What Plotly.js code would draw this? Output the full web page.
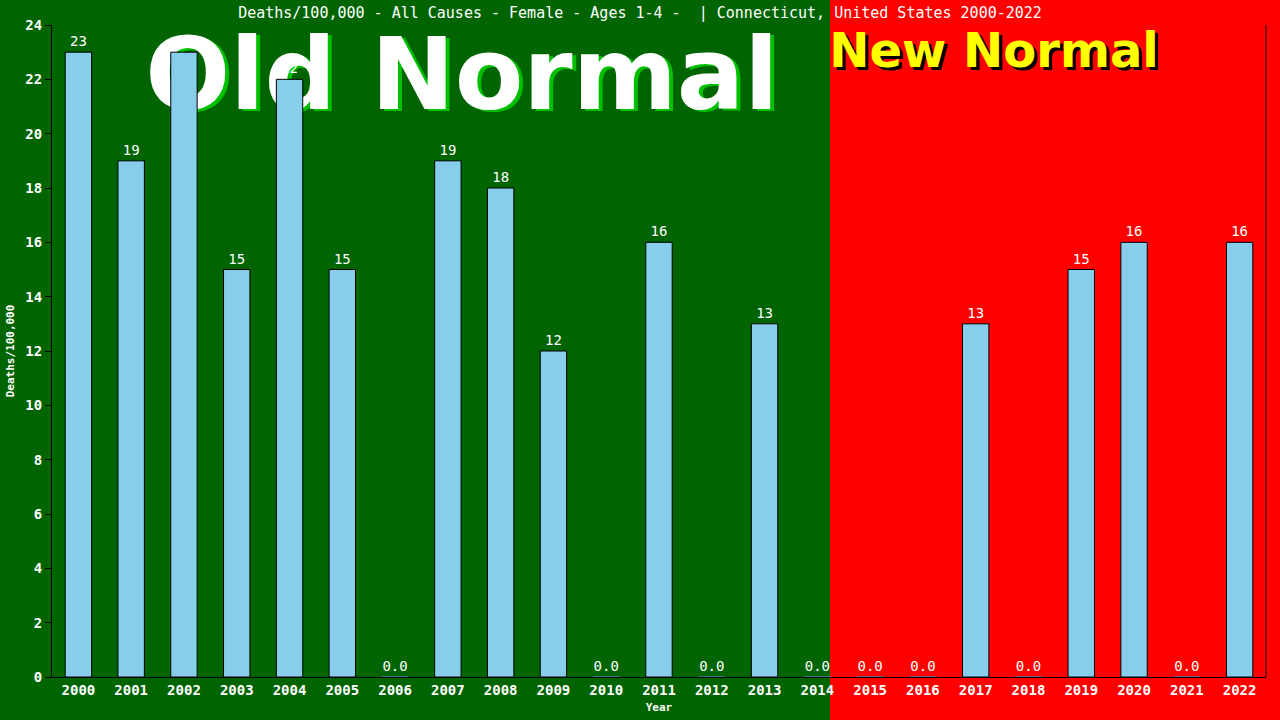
<!DOCTYPE html>
<html>
<head>
<meta charset="utf-8">
<script src="https://cdn.plot.ly/plotly-3.0.1.min.js"></script>
<style>html,body{margin:0;padding:0;background:#ff0000;}#chart{width:1280px;height:720px;}</style>
</head>
<body>
<div id="chart"></div>
<script>
const years = ['2000','2001','2002','2003','2004','2005','2006','2007','2008','2009','2010','2011','2012','2013','2014','2015','2016','2017','2018','2019','2020','2021','2022'];
const deaths = [23,19,23,15,22,15,0,19,18,12,0,16,0,13,0,0,0,13,0,15,16,0,16];
const labels = deaths.map(v => v === 0 ? '0.0' : String(v));
const yTicks = [0,2,4,6,8,10,12,14,16,18,20,22,24];
const titleText = 'Deaths/100,000 - All Causes - Female - Ages 1-4 -  | Connecticut, United States 2000-2022';

const mono = 'DejaVu Sans Mono, monospace';
const trace = {
  type: 'bar',
  x: years,
  y: deaths,
  width: 0.5,
  marker: {color: '#87ceeb', line: {color: deaths.map(v => v === 0 ? '#4682b4' : '#000000'), width: 1}},
  text: labels,
  textposition: 'outside',
  cliponaxis: false,
  textfont: {family: mono, size: 14, color: '#ffffff'},
  hoverinfo: 'x+y'
};

const split = (830 - 52) / 1214;
const oy = 0.926 + 0.0092;
const ny = 0.9586 + 0.0077;
const layout = {
  width: 1280, height: 720,
  margin: {l: 52, r: 14, t: 25, b: 43},
  paper_bgcolor: '#ff0000',
  plot_bgcolor: 'rgba(0,0,0,0)',
  showlegend: false,
  bargap: 0.5,
  title: {text: titleText, font: {family: mono, size: 15, color: '#ffffff'}, x: 0.5, xanchor: 'center', y: 0.982, yanchor: 'middle'},
  xaxis: {
    type: 'category',
    showline: true, linecolor: '#000000', linewidth: 1,
    ticks: '', showgrid: false, zeroline: false,
    tickfont: {family: mono, size: 14, color: '#ffffff', weight: 'bold'},
    title: {text: 'Year', font: {family: mono, size: 11, color: '#ffffff', weight: 'bold'}, standoff: 6}
  },
  yaxis: {
    range: [0, 24], tickvals: yTicks, ticktext: yTicks.map(String),
    showline: true, linecolor: '#000000', linewidth: 1,
    ticks: 'outside', ticklen: 6, tickcolor: '#000000',
    showgrid: false, zeroline: false,
    tickfont: {family: mono, size: 14, color: '#ffffff', weight: 'bold'},
    title: {text: 'Deaths/100,000', font: {family: mono, size: 11, color: '#ffffff', weight: 'bold'}, standoff: 8}
  },
  shapes: [
    {type: 'rect', xref: 'paper', yref: 'paper', x0: -0.1, x1: split, y0: -0.1, y1: 1.1, fillcolor: '#006400', line: {width: 0}, layer: 'below'},
    {type: 'line', xref: 'paper', yref: 'paper', x0: 1, x1: 1, y0: 0, y1: 1, line: {color: '#000000', width: 1}},
    {type: 'rect', xref: 'paper', yref: 'paper', x0: 0.3377 - 0.3 + 0.0033, x1: 0.3377 + 0.3 + 0.0033, y0: oy - 0.08 - 0.003, y1: oy + 0.08 - 0.003, line: {width: 0}, fillcolor: 'rgba(0,0,0,0)', layer: 'below',
      label: {text: '<b>Old Normal</b>', textposition: 'middle center', font: {family: 'DejaVu Sans, sans-serif', size: 100, color: '#00c000'}}},
    {type: 'rect', xref: 'paper', yref: 'paper', x0: 0.3377 - 0.3, x1: 0.3377 + 0.3, y0: oy - 0.08, y1: oy + 0.08, line: {width: 0}, fillcolor: 'rgba(0,0,0,0)', layer: 'below',
      label: {text: '<b>Old Normal</b>', textposition: 'middle center', font: {family: 'DejaVu Sans, sans-serif', size: 100, color: '#ffffff'}}},
    {type: 'rect', xref: 'paper', yref: 'paper', x0: 0.776 - 0.15 + 0.0025, x1: 0.776 + 0.15 + 0.0025, y0: ny - 0.04 - 0.0045, y1: ny + 0.04 - 0.0045, line: {width: 0}, fillcolor: 'rgba(0,0,0,0)', layer: 'below',
      label: {text: '<b>New Normal</b>', textposition: 'middle center', font: {family: 'DejaVu Sans, sans-serif', size: 48, color: '#000000'}}},
    {type: 'rect', xref: 'paper', yref: 'paper', x0: 0.776 - 0.15, x1: 0.776 + 0.15, y0: ny - 0.04, y1: ny + 0.04, line: {width: 0}, fillcolor: 'rgba(0,0,0,0)', layer: 'below',
      label: {text: '<b>New Normal</b>', textposition: 'middle center', font: {family: 'DejaVu Sans, sans-serif', size: 48, color: '#ffff00'}}}
  ]
};

Plotly.newPlot('chart', [trace], layout, {displayModeBar: false, staticPlot: true});
</script>
</body>
</html>
